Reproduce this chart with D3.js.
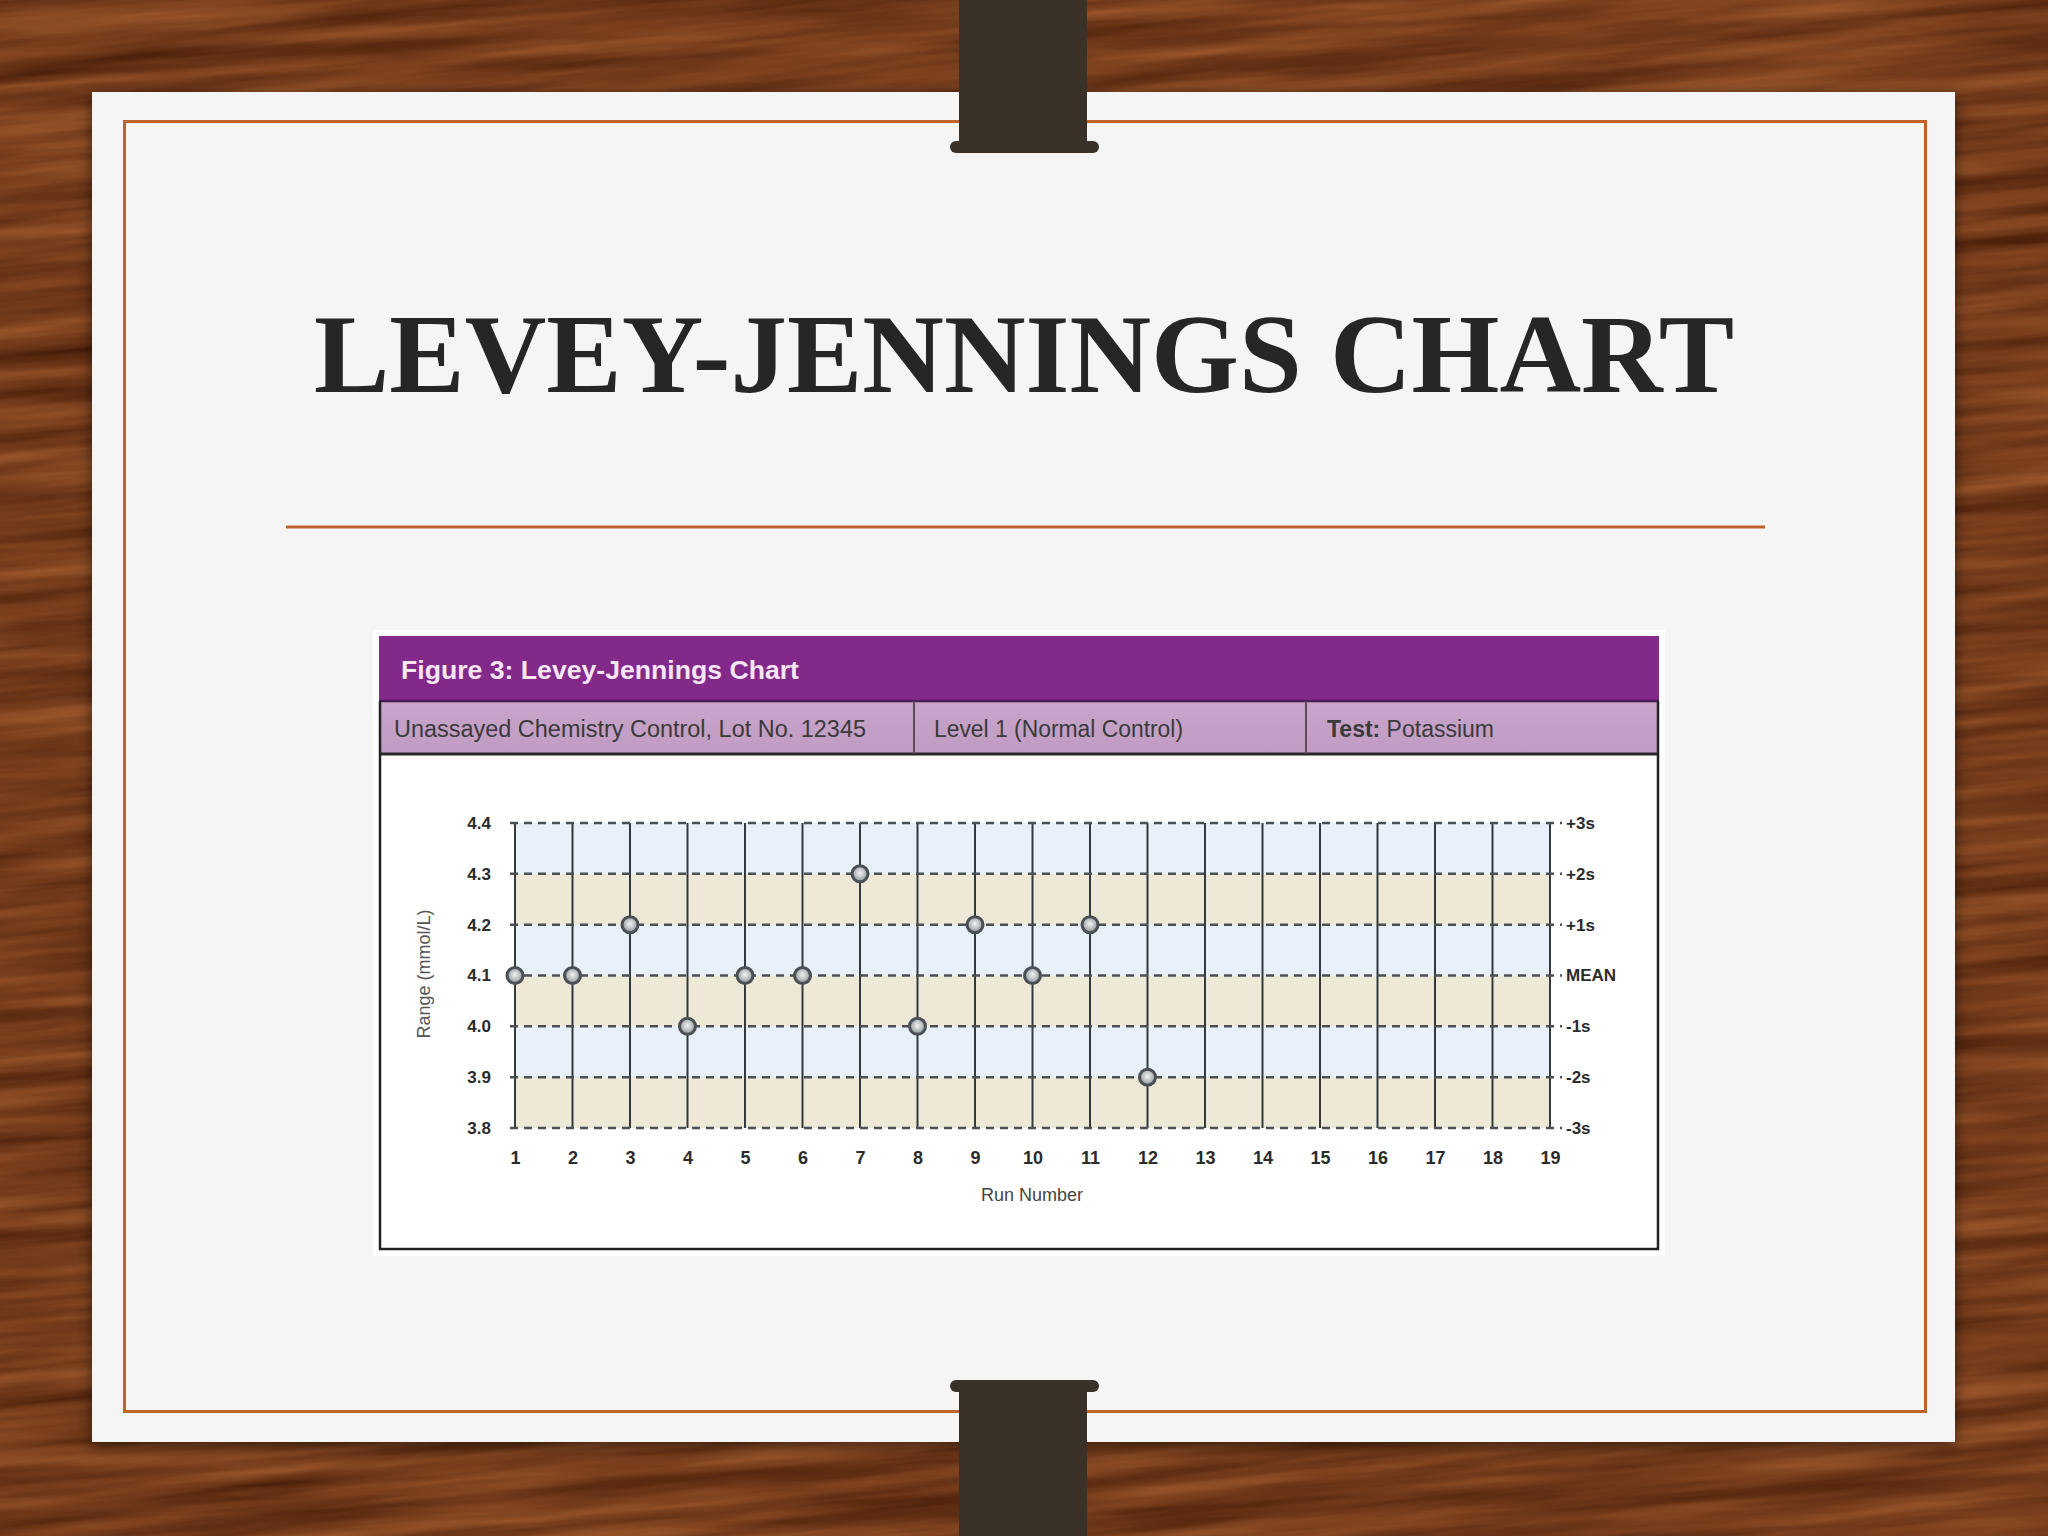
<!DOCTYPE html>
<html><head><meta charset="utf-8">
<script src="https://cdn.jsdelivr.net/npm/d3@7/dist/d3.min.js"></script>
<style>html,body{margin:0;padding:0;background:#6e3819;}svg{display:block;}</style>
</head><body>
<script>
// ---------- data ----------
const runNumbers = [1,2,3,4,5,6,7,8,9,10,11,12,13,14,15,16,17,18,19];
const pointRuns = [1,2,3,4,5,6,7,8,9,10,11,12];
const pointValues = [4.1,4.1,4.2,4.0,4.1,4.1,4.3,4.0,4.2,4.1,4.2,3.9];
const yTicks = [3.8,3.9,4.0,4.1,4.2,4.3,4.4];
const sigmaLabels = ["-3s","-2s","-1s","MEAN","+1s","+2s","+3s"];
const slideTitle = "LEVEY-JENNINGS CHART";
const figureTitle = "Figure 3: Levey-Jennings Chart";
const infoCells = ["Unassayed Chemistry Control, Lot No. 12345", "Level 1 (Normal Control)"];
const testLabel = "Test:";
const testValue = " Potassium";
const yAxisTitle = "Range (mmol/L)";
const xAxisTitle = "Run Number";

// ---------- page ----------
const W = 2048, H = 1536;
const svg = d3.select("body").append("svg").attr("width", W).attr("height", H);
const defs = svg.append("defs");

// wood texture
const wood = defs.append("filter").attr("id","wood").attr("x",0).attr("y",0).attr("width","100%").attr("height","100%")
  .attr("color-interpolation-filters","sRGB");
wood.append("feTurbulence").attr("type","fractalNoise").attr("baseFrequency","0.003 0.05").attr("numOctaves",4).attr("seed",7).attr("result","n");
wood.append("feColorMatrix").attr("in","n").attr("type","matrix")
  .attr("values","0.44 0 0 0 0.241  0.30 0 0 0 0.086  0.18 0 0 0 0.017  0 0 0 0 1");
svg.append("rect").attr("width",W).attr("height",H).attr("fill","#74401e");
svg.append("g").attr("transform","rotate(-5 1024 768)")
  .append("rect").attr("x",-300).attr("y",-300).attr("width",W+600).attr("height",H+600)
  .attr("filter","url(#wood)");

// card shadow
const sh = defs.append("filter").attr("id","shadow").attr("x","-5%").attr("y","-5%").attr("width","110%").attr("height","110%");
sh.append("feDropShadow").attr("dx",0).attr("dy",4).attr("stdDeviation",8).attr("flood-color","#000").attr("flood-opacity",0.55);

const cardX = 92, cardY = 92, cardW = 1863, cardH = 1350;
svg.append("rect").attr("x",cardX).attr("y",cardY).attr("width",cardW).attr("height",cardH)
  .attr("fill","#f5f5f6").attr("filter","url(#shadow)");

const orange = "#c0632b";
svg.append("rect").attr("x",124.5).attr("y",121.5).attr("width",1801).attr("height",1290)
  .attr("fill","none").attr("stroke",orange).attr("stroke-width",3);

// title
svg.append("text").attr("x",1024).attr("y",392).attr("text-anchor","middle")
  .attr("font-family","'Liberation Serif','Times New Roman',serif").attr("font-weight","bold")
  .attr("font-size",113).attr("fill","#262626")
  .attr("textLength",1420).attr("lengthAdjust","spacingAndGlyphs")
  .text(slideTitle);
svg.append("line").attr("x1",286).attr("x2",1765).attr("y1",527).attr("y2",527)
  .attr("stroke",orange).attr("stroke-width",3);

// ---------- figure ----------
const fx0 = 379, fx1 = 1659, fy0 = 636, fy1 = 1250;
const sans = "'Liberation Sans',Arial,Helvetica,sans-serif";
const fig = svg.append("g");
fig.append("rect").attr("x",fx0-6).attr("y",fy0-6).attr("width",fx1-fx0+12).attr("height",fy1-fy0+12).attr("fill","#ffffff");
fig.append("rect").attr("x",fx0).attr("y",fy0).attr("width",fx1-fx0).attr("height",fy1-fy0).attr("fill","#ffffff");
fig.append("rect").attr("x",fx0).attr("y",fy0).attr("width",fx1-fx0).attr("height",65).attr("fill","#82298a");
const lil = defs.append("linearGradient").attr("id","lil").attr("x1",0).attr("y1",0).attr("x2",0).attr("y2",1);
lil.append("stop").attr("offset",0).attr("stop-color","#c8a5ca");
lil.append("stop").attr("offset",1).attr("stop-color","#c09bc3");
fig.append("rect").attr("x",fx0).attr("y",701).attr("width",fx1-fx0).attr("height",53).attr("fill","url(#lil)");
fig.append("line").attr("x1",fx0).attr("x2",fx1).attr("y1",701).attr("y2",701).attr("stroke","#4e1c55").attr("stroke-width",2.5);
fig.append("line").attr("x1",fx0).attr("x2",fx1).attr("y1",754).attr("y2",754).attr("stroke","#2a2a2a").attr("stroke-width",3);
[914,1306].forEach(x=>fig.append("line").attr("x1",x).attr("x2",x).attr("y1",701).attr("y2",754).attr("stroke","#5a4a5c").attr("stroke-width",2));
// frame
fig.append("path").attr("d",`M${fx0+1},701 V${fy1-1} H${fx1-1} V701`).attr("fill","none").attr("stroke","#222").attr("stroke-width",2.5);

fig.append("text").attr("x",401).attr("y",679).attr("font-family",sans).attr("font-weight","bold")
  .attr("font-size",25).attr("fill","#f7e6f6").attr("textLength",398).attr("lengthAdjust","spacingAndGlyphs").text(figureTitle);
fig.append("text").attr("x",394).attr("y",737).attr("font-family",sans).attr("font-size",23).attr("fill","#3a3a3a")
  .attr("textLength",472).attr("lengthAdjust","spacingAndGlyphs").text(infoCells[0]);
fig.append("text").attr("x",934).attr("y",737).attr("font-family",sans).attr("font-size",23).attr("fill","#3a3a3a")
  .attr("textLength",249).attr("lengthAdjust","spacingAndGlyphs").text(infoCells[1]);
const tt = fig.append("text").attr("x",1327).attr("y",737).attr("font-family",sans).attr("font-size",23).attr("fill","#3a3a3a")
  .attr("textLength",167).attr("lengthAdjust","spacingAndGlyphs");
tt.append("tspan").attr("font-weight","bold").text(testLabel);
tt.append("tspan").text(testValue);

// ---------- plot ----------
const x = d3.scaleLinear().domain([1,19]).range([515,1550]);
const y = d3.scaleLinear().domain([3.8,4.4]).range([1128,823]);
const plot = svg.append("g");

// bands
const bands = yTicks.slice(0,-1).map((v,i)=>({lo:v, hi:yTicks[i+1], i}));
plot.selectAll("rect.band").data(bands).join("rect").attr("class","band")
  .attr("x",x(1)).attr("width",x(19)-x(1))
  .attr("y",d=>y(d.hi)).attr("height",d=>y(d.lo)-y(d.hi))
  .attr("fill",d=>d.i%2===0 ? "#eee8d7" : "#e8f1f9");

// vertical run lines
plot.selectAll("line.run").data(runNumbers).join("line").attr("class","run")
  .attr("x1",d=>x(d)).attr("x2",d=>x(d)).attr("y1",y(4.4)).attr("y2",y(3.8))
  .attr("stroke","#333a3e").attr("stroke-width",2);

// dashed lines
plot.selectAll("line.dash").data(yTicks).join("line").attr("class","dash")
  .attr("x1",x(1)-5).attr("x2",x(19)+12).attr("y1",d=>y(d)).attr("y2",d=>y(d))
  .attr("stroke","#4a4f53").attr("stroke-width",2.5).attr("stroke-dasharray","8,6");

// axes
const axisStyle = g => {
  g.select(".domain").remove();
  g.selectAll(".tick line").remove();
  g.selectAll("text").attr("font-family",sans).attr("font-weight","bold").attr("fill","#2b2b2b");
};
svg.append("g").attr("transform",`translate(${x(1)},0)`)
  .call(d3.axisLeft(y).tickValues(yTicks).tickSize(0).tickPadding(24).tickFormat(d3.format(".1f")))
  .call(axisStyle).selectAll("text").attr("font-size",17);
svg.append("g").attr("transform",`translate(${x(19)},0)`)
  .call(d3.axisRight(y).tickValues(yTicks).tickSize(0).tickPadding(16).tickFormat((d,i)=>sigmaLabels[i]))
  .call(axisStyle).selectAll("text").attr("font-size",17);
svg.append("g").attr("transform",`translate(0,${y(3.8)})`)
  .call(d3.axisBottom(x).tickValues(runNumbers).tickSize(0).tickPadding(23).tickFormat(d3.format("d")))
  .call(axisStyle).selectAll("text").attr("font-size",18);

svg.append("text").attr("transform",`translate(430,974) rotate(-90)`).attr("text-anchor","middle")
  .attr("font-family",sans).attr("font-size",18).attr("fill","#555").text(yAxisTitle);
svg.append("text").attr("x",1032).attr("y",1201).attr("text-anchor","middle")
  .attr("font-family",sans).attr("font-size",18).attr("fill","#444").text(xAxisTitle);

// points
const pg = defs.append("radialGradient").attr("id","pt").attr("cx","50%").attr("cy","45%").attr("r","55%");
pg.append("stop").attr("offset",0).attr("stop-color","#f2f3f3");
pg.append("stop").attr("offset",0.6).attr("stop-color","#b5babd");
pg.append("stop").attr("offset",1).attr("stop-color","#80868a");
const pts = pointRuns.map((r,i)=>({r, v:pointValues[i]}));
plot.selectAll("circle.pt").data(pts).join("circle").attr("class","pt")
  .attr("cx",d=>x(d.r)).attr("cy",d=>y(d.v)).attr("r",8)
  .attr("fill","url(#pt)").attr("stroke","#4a5055").attr("stroke-width",3);

// ---------- binder clips ----------
const clipC = "#3a3129";
const clips = svg.append("g");
clips.append("rect").attr("x",950).attr("y",141).attr("width",149).attr("height",12).attr("rx",6).attr("fill",clipC);
clips.append("rect").attr("x",959).attr("y",0).attr("width",128).attr("height",153).attr("fill",clipC);
clips.append("rect").attr("x",950).attr("y",1380).attr("width",149).attr("height",12).attr("rx",6).attr("fill",clipC);
clips.append("rect").attr("x",959).attr("y",1381).attr("width",128).attr("height",155).attr("fill",clipC);
</script>
</body></html>
